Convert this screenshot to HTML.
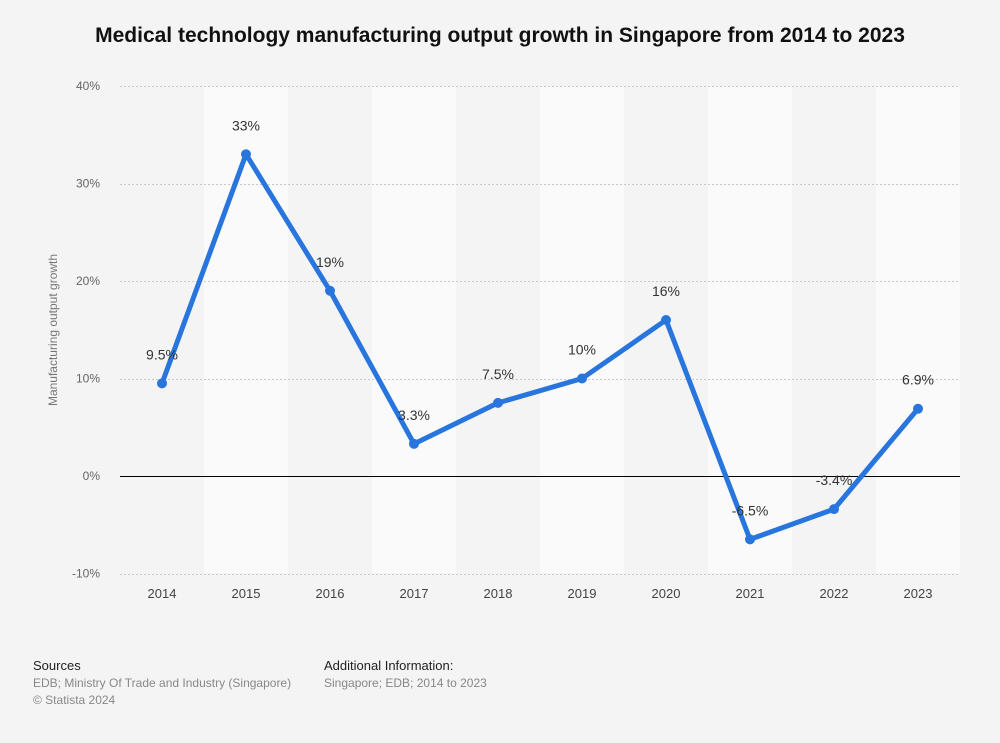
<!DOCTYPE html>
<html><head><meta charset="utf-8"><style>
body{margin:0;background:#f4f4f4;font-family:"Liberation Sans",Arial,sans-serif;}
#wrap{position:relative;width:1000px;height:743px;background:#f4f4f4;}
h1{position:absolute;top:24px;left:0;width:1000px;text-align:center;font-size:21px;font-weight:bold;color:#111;margin:0;}
.foot{position:absolute;font-size:12px;color:#888;line-height:17px;}
.foot b{color:#222;font-weight:normal;font-size:13px;}
</style></head><body>
<div id="wrap">
<h1>Medical technology manufacturing output growth in Singapore from 2014 to 2023</h1>
<svg id="chart" width="1000" height="743" style="position:absolute;left:0;top:0"></svg>
<div class="foot" style="left:33px;top:657px"><b>Sources</b><br>EDB; Ministry Of Trade and Industry (Singapore)<br>© Statista 2024</div>
<div class="foot" style="left:324px;top:657px"><b>Additional Information:</b><br>Singapore; EDB; 2014 to 2023</div>
</div>
<script>
const categories=["2014","2015","2016","2017","2018","2019","2020","2021","2022","2023"];
const values=[9.5,33,19,3.3,7.5,10,16,-6.5,-3.4,6.9];
const valueLabels=["9.5%","33%","19%","3.3%","7.5%","10%","16%","-6.5%","-3.4%","6.9%"];
const yTicks=[-10,0,10,20,30,40];
const NS="http://www.w3.org/2000/svg";
const svg=document.getElementById('chart');
const left=120,right=960,bw=(right-left)/categories.length;
const x=i=>left+bw*(i+0.5);
const y=v=>476-v*9.75;
function mk(t,a){const e=document.createElementNS(NS,t);for(const k in a)e.setAttribute(k,a[k]);svg.appendChild(e);return e;}
categories.forEach((c,i)=>{
 if(i%2===1){const r=mk('rect',{x:left+bw*i,y:y(40),width:bw,height:y(-10)-y(40),fill:'#fafafa'});
 
 }
});
yTicks.forEach(t=>{
 const l=mk('line',{x1:left,x2:right,y1:Math.round(y(t))+0.5,y2:Math.round(y(t))+0.5,stroke:t===0?'#000':'#c8c8c8','stroke-dasharray':t===0?'':'2,2','stroke-width':1});
 
 
 const tx=mk('text',{x:100,y:y(t)+4,'text-anchor':'end','font-size':12,fill:'#666'});tx.textContent=t+'%';
 
 
});
categories.forEach((c,i)=>{
 const tx=mk('text',{x:x(i),y:598,'text-anchor':'middle','font-size':13,fill:'#444'});tx.textContent=c;
 
 
});
const yt=mk('text',{x:0,y:0,transform:'translate(57,330) rotate(-90)','text-anchor':'middle','font-size':12,fill:'#777'});yt.textContent='Manufacturing output growth';


const pl=mk('polyline',{points:values.map((v,i)=>x(i)+','+y(v)).join(' '),fill:'none',stroke:'#2876dd','stroke-width':5,'stroke-linejoin':'round'});


values.forEach((v,i)=>{
 const c=mk('circle',{cx:x(i),cy:y(v),r:5,fill:'#2876dd'});
 
 
 const t=mk('text',{x:x(i),y:y(v)-24,'text-anchor':'middle','font-size':14,fill:'#333'});t.textContent=valueLabels[i];
 
 
});
</script>
</body></html>
